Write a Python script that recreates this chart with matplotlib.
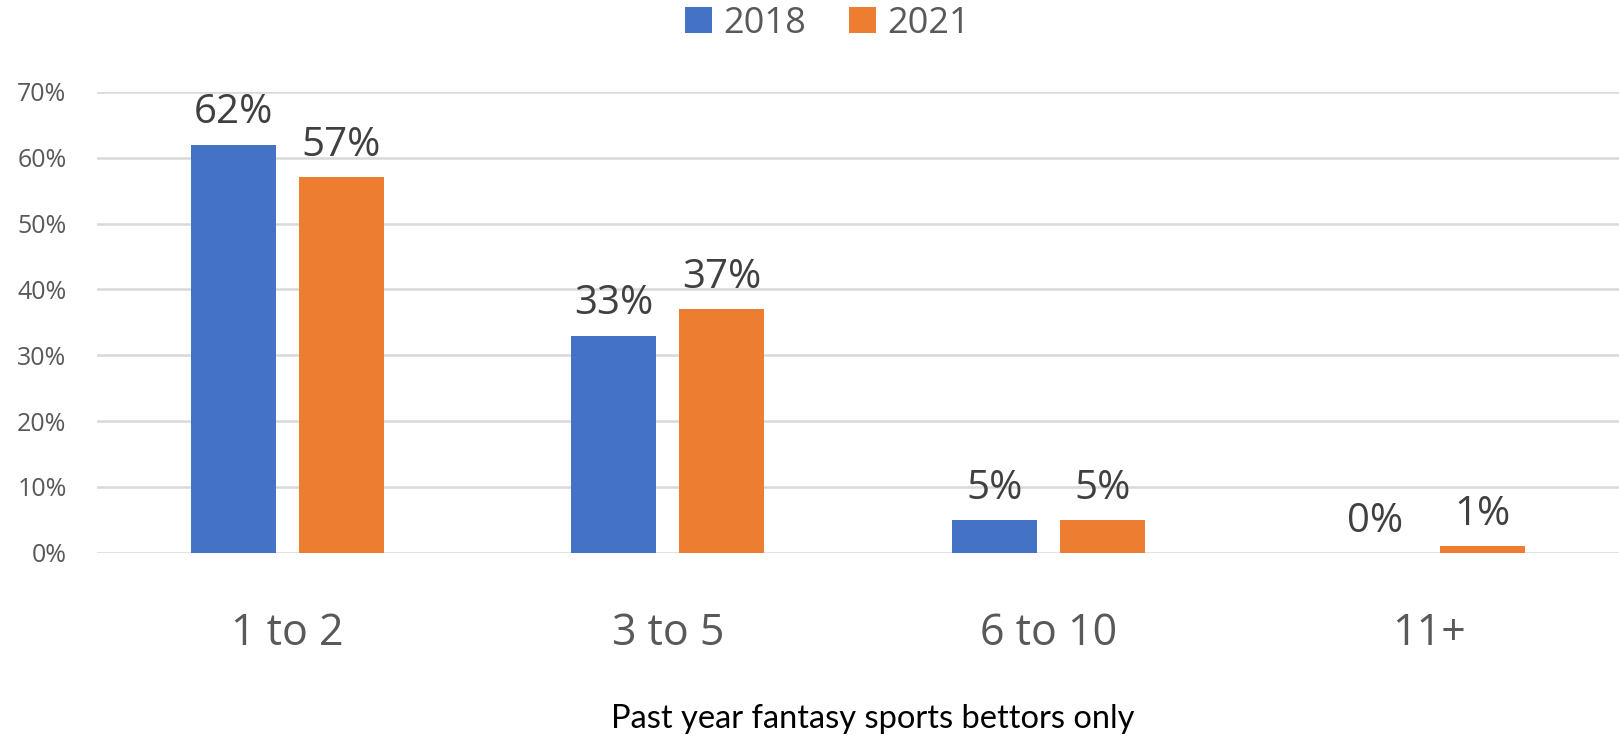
import matplotlib.pyplot as plt
import numpy as np

categories = ["1 to 2", "3 to 5", "6 to 10", "11+"]
years = ["2018", "2021"]
vals_2018 = [62, 33, 5, 0]
vals_2021 = [57, 37, 5, 1]
colors = ["#4472C4", "#ED7D31"]

plt.rcParams['font.family'] = ['Open Sans', 'DejaVu Sans']

fig = plt.figure(figsize=(16.19, 7.41), dpi=100)
ax = fig.add_axes([0.06, 0.254, 0.94, 0.622])

x = np.arange(len(categories))
w = 0.223
off = 0.142
for vals, c, lab, d in zip([vals_2018, vals_2021], colors, years, [-off, off]):
    bars = ax.bar(x + d, vals, w, color=c, label=lab, zorder=3)
    for b, v in zip(bars, vals):
        ax.annotate(f"{v}%", (b.get_x() + b.get_width() / 2, v),
                    xytext=(0, 8), textcoords='offset points',
                    ha='center', va='bottom', fontsize=29, color='#404040')

ax.set_xlim(-0.5, len(categories) - 0.5)
ax.set_ylim(0, 70)
ax.set_yticks(range(0, 71, 10))
ax.set_yticklabels([f"{t}%" for t in range(0, 71, 10)], fontsize=18, color='#595959')
ax.set_xticks(x)
ax.set_xticklabels(categories, fontsize=31, color='#595959')
ax.tick_params(axis='both', length=0)
ax.tick_params(axis='x', pad=42)
ax.tick_params(axis='y', pad=22)
ax.grid(axis='y', color='#d9d9d9', linewidth=1.8, zorder=0)
for s in ax.spines.values():
    s.set_visible(False)

fig.legend(loc='center', bbox_to_anchor=(0.511, 0.968), ncol=2, frameon=False,
           fontsize=26, handlelength=0.75, handleheight=0.75, handletextpad=0.3,
           columnspacing=1.2, labelcolor='#595959')

fig.text(0.539, 0.03, "Past year fantasy sports bettors only", ha='center', va='center',
         fontsize=23.5, color='black', family=['Lato', 'DejaVu Sans'])

fig.savefig("out.png", dpi=100)
